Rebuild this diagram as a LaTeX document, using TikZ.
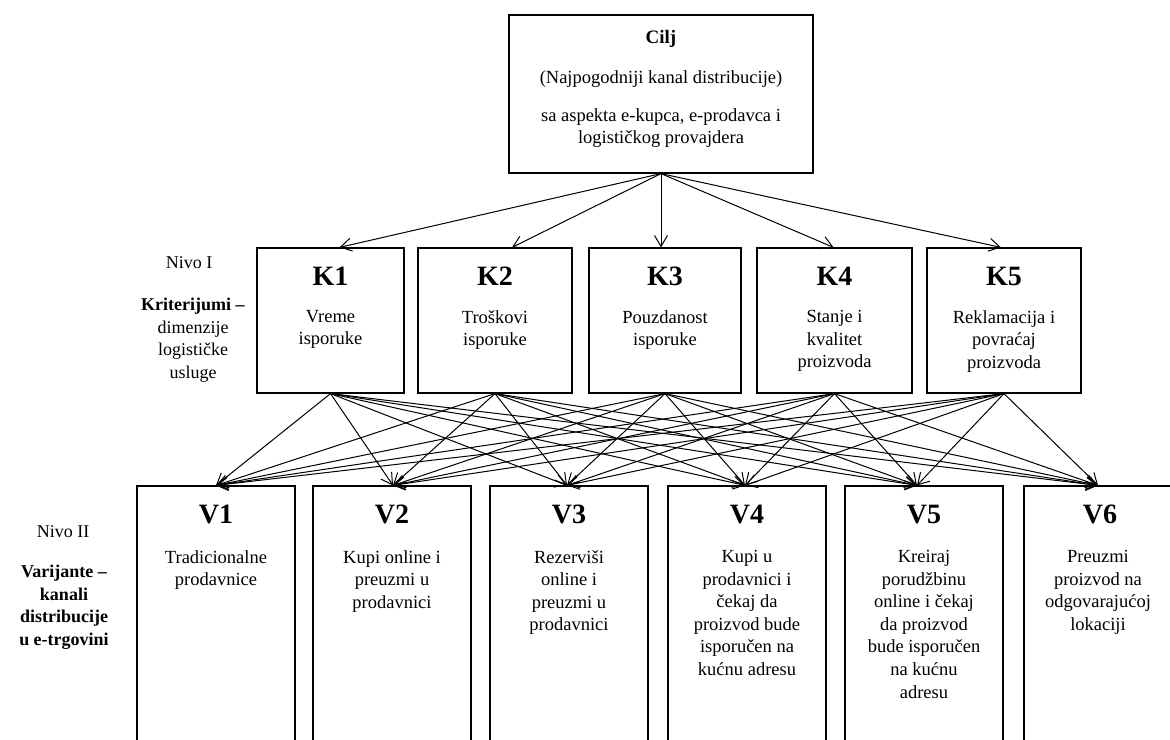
\documentclass[tikz,border=0pt]{standalone}
\usepackage{fontspec}
\setmainfont{Liberation Serif}
\usetikzlibrary{arrows.meta}
\begin{document}
\begin{tikzpicture}[x=1pt,y=-1pt,
  box/.style={draw, line width=1.2pt, inner sep=0pt},
  ttl/.style={font=\fontsize{28}{30}\selectfont\bfseries, inner sep=0pt, anchor=base},
  txt/.style={font=\fontsize{18.5}{22.6}\selectfont, align=center, inner sep=0pt, anchor=north},
  lbl/.style={font=\fontsize{18}{22.6}\selectfont, align=center, inner sep=0pt},
  arr/.style={line width=1pt, -{Straight Barb[length=11pt,width=13pt]}}]
\useasboundingbox (0,0) rectangle (1170,739);
\fill[white] (0,0) rectangle (1170,739);
\clip (0,0) rectangle (1170,739);

% goal box
\node[box, minimum width=304, minimum height=158] (cilj) at (661,94) {};
\node[ttl, font=\fontsize{19}{22}\selectfont\bfseries] (ciljT) at (661,43) {Cilj};
\node[txt] (ciljA) at (661,70) {(Najpogodniji kanal distribucije)};
\node[txt] (ciljB) at (661,108) {sa aspekta e-kupca, e-prodavca i\\logističkog provajdera};

% level I: criteria
\node[box, minimum width=147, minimum height=145] (K1) at (330.5,320.5) {};
\node[box, minimum width=154, minimum height=145] (K2) at (495,320.5) {};
\node[box, minimum width=152, minimum height=145] (K3) at (665,320.5) {};
\node[box, minimum width=155, minimum height=145] (K4) at (834.5,320.5) {};
\node[box, minimum width=154, minimum height=145] (K5) at (1004,320.5) {};

\node[ttl] (K1t) at (330.5,285) {K1};
\node[ttl] (K2t) at (495,285) {K2};
\node[ttl] (K3t) at (665,285) {K3};
\node[ttl] (K4t) at (834.5,285) {K4};
\node[ttl] (K5t) at (1004,285) {K5};

\node[txt] (K1d) at (330.5,310) {Vreme\\isporuke};
\node[txt] (K2d) at (495,310) {Troškovi\\isporuke};
\node[txt] (K3d) at (665,310) {Pouzdanost\\isporuke};
\node[txt] (K4d) at (834.5,310) {Stanje i\\kvalitet\\proizvoda};
\node[txt] (K5d) at (1004,310) {Reklamacija i\\povraćaj\\proizvoda};

% level II: variants
\node[box, minimum width=158, minimum height=300] (V1) at (216,636) {};
\node[box, minimum width=158, minimum height=300] (V2) at (392,636) {};
\node[box, minimum width=158, minimum height=300] (V3) at (569,636) {};
\node[box, minimum width=158, minimum height=300] (V4) at (747,636) {};
\node[box, minimum width=158, minimum height=300] (V5) at (924,636) {};
\node[box, minimum width=158, minimum height=300] (V6) at (1103,636) {};

\node[ttl] (V1t) at (216,523) {V1};
\node[ttl] (V2t) at (392,523) {V2};
\node[ttl] (V3t) at (569,523) {V3};
\node[ttl] (V4t) at (747,523) {V4};
\node[ttl] (V5t) at (924,523) {V5};
\node[ttl] (V6t) at (1100,523) {V6};

\node[txt] (V1d) at (216,550) {Tradicionalne\\prodavnice};
\node[txt] (V2d) at (392,550) {Kupi online i\\preuzmi u\\prodavnici};
\node[txt] (V3d) at (569,550) {Rezerviši\\online i\\preuzmi u\\prodavnici};
\node[txt] (V4d) at (747,550) {Kupi u\\prodavnici i\\čekaj da\\proizvod bude\\isporučen na\\kućnu adresu};
\node[txt] (V5d) at (924,550) {Kreiraj\\porudžbinu\\online i čekaj\\da proizvod\\bude isporučen\\na kućnu\\adresu};
\node[txt] (V6d) at (1098,550) {Preuzmi\\proizvod na\\odgovarajućoj\\lokaciji};

% side labels
\node[lbl] (n1) at (189,263) {Nivo I};
\node[lbl, anchor=north] (n1d) at (193,298) {\textbf{Kriterijumi –}\\dimenzije\\logističke\\usluge};
\node[lbl] (n2) at (63,532) {Nivo II};
\node[lbl, anchor=north, font=\fontsize{18}{22.6}\selectfont\bfseries] (n2d) at (64,565) {Varijante –\\kanali\\distribucije\\u e-trgovini};

% goal to criteria
\draw[arr] (cilj.south) -- ([xshift=9]K1.north);
\draw[arr] (cilj.south) -- ([xshift=17]K2.north);
\draw[arr] (cilj.south) -- ([xshift=-4]K3.north);
\draw[arr] (cilj.south) -- ([xshift=-1]K4.north);
\draw[arr] (cilj.south) -- ([xshift=-3]K5.north);

% every criterion to every variant
\foreach \k in {K1,K2,K3,K4,K5}{
  \draw[arr] (\k.south) -- (V1.north);
  \draw[arr] (\k.south) -- ([xshift=1]V2.north);
  \draw[arr] (\k.south) -- ([xshift=-2]V3.north);
  \draw[arr] (\k.south) -- ([xshift=-2]V4.north);
  \draw[arr] (\k.south) -- ([xshift=-7]V5.north);
  \draw[arr] (\k.south) -- ([xshift=-5]V6.north);
}
\end{tikzpicture}
\end{document}
